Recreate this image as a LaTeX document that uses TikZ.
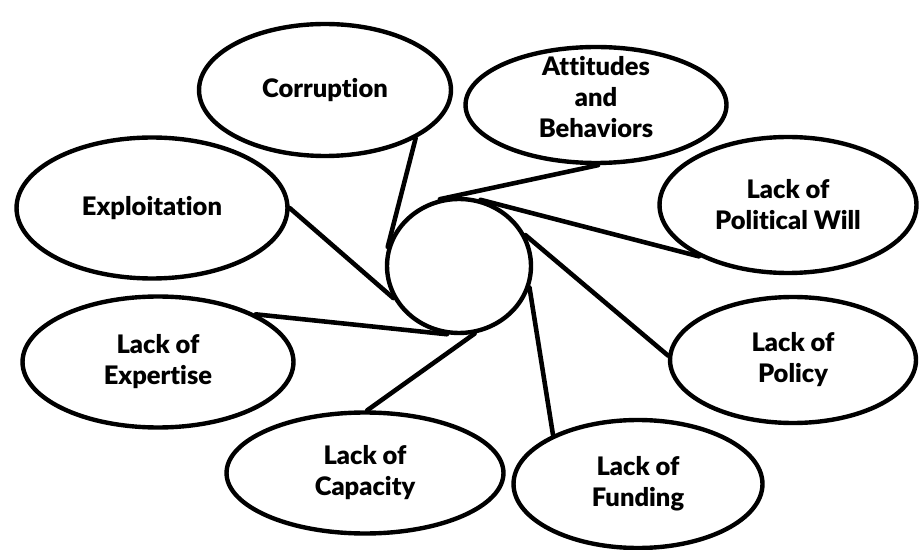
\documentclass[tikz,border=0pt]{standalone}
\usepackage{fontspec}
\setmainfont{Lato}[BoldFont={Lato Black},Ligatures=NoCommon]
\usetikzlibrary{shapes.geometric}
\tikzset{
  bubble/.style={ellipse, draw=black, line width=2.5pt, fill=white, inner sep=0pt, align=center,
    font=\fontsize{14.5}{17.6}\selectfont\bfseries},
  lbl/.style={align=center, inner sep=0pt, font=\fontsize{14.5}{17.6}\selectfont\bfseries},
  link/.style={line width=2.6pt, line cap=round}
}
\begin{document}
\begin{tikzpicture}[x=0.02cm,y=-0.02cm]
\useasboundingbox (0,0) rectangle (919,550);
\node[bubble, minimum width=2.88cm, minimum height=2.68cm] (c) at (459,266) {};
\node[bubble, minimum width=5.04cm, minimum height=2.64cm] (corr) at (325,90) {Corruption};
\node[bubble, minimum width=5.22cm, minimum height=2.32cm] (att) at (596,105) {};
\node[lbl] (attT) at (596,97) {Attitudes\\and\\Behaviors};
\node[bubble, minimum width=5.14cm, minimum height=2.72cm] (pol) at (788,205) {Lack of\\Political Will};
\node[bubble, minimum width=4.92cm, minimum height=2.52cm] (policy) at (793,360) {Lack of\\Policy};
\node[bubble, minimum width=4.98cm, minimum height=2.56cm] (fund) at (638,484) {Lack of\\Funding};
\node[bubble, minimum width=5.54cm, minimum height=2.42cm] (cap) at (365,473) {Lack of\\Capacity};
\node[bubble, minimum width=5.42cm, minimum height=2.62cm] (exp) at (158,362) {Lack of\\Expertise};
\node[bubble, minimum width=5.42cm, minimum height=2.82cm] (expl) at (152,208) {Exploitation};
\draw[link] (corr.-28) -- (c.165);
\draw[link] (att.-88) -- (c.106);
\draw[link] (pol.210) -- (c.72);
\draw[link] (policy.178) -- (c.25);
\draw[link] (fund.150) -- (c.-17);
\draw[link] (cap.88) -- (c.-77);
\draw[link] (exp.26) -- (c.-100);
\draw[link] (expl.0) -- (c.206);
\end{tikzpicture}
\end{document}
